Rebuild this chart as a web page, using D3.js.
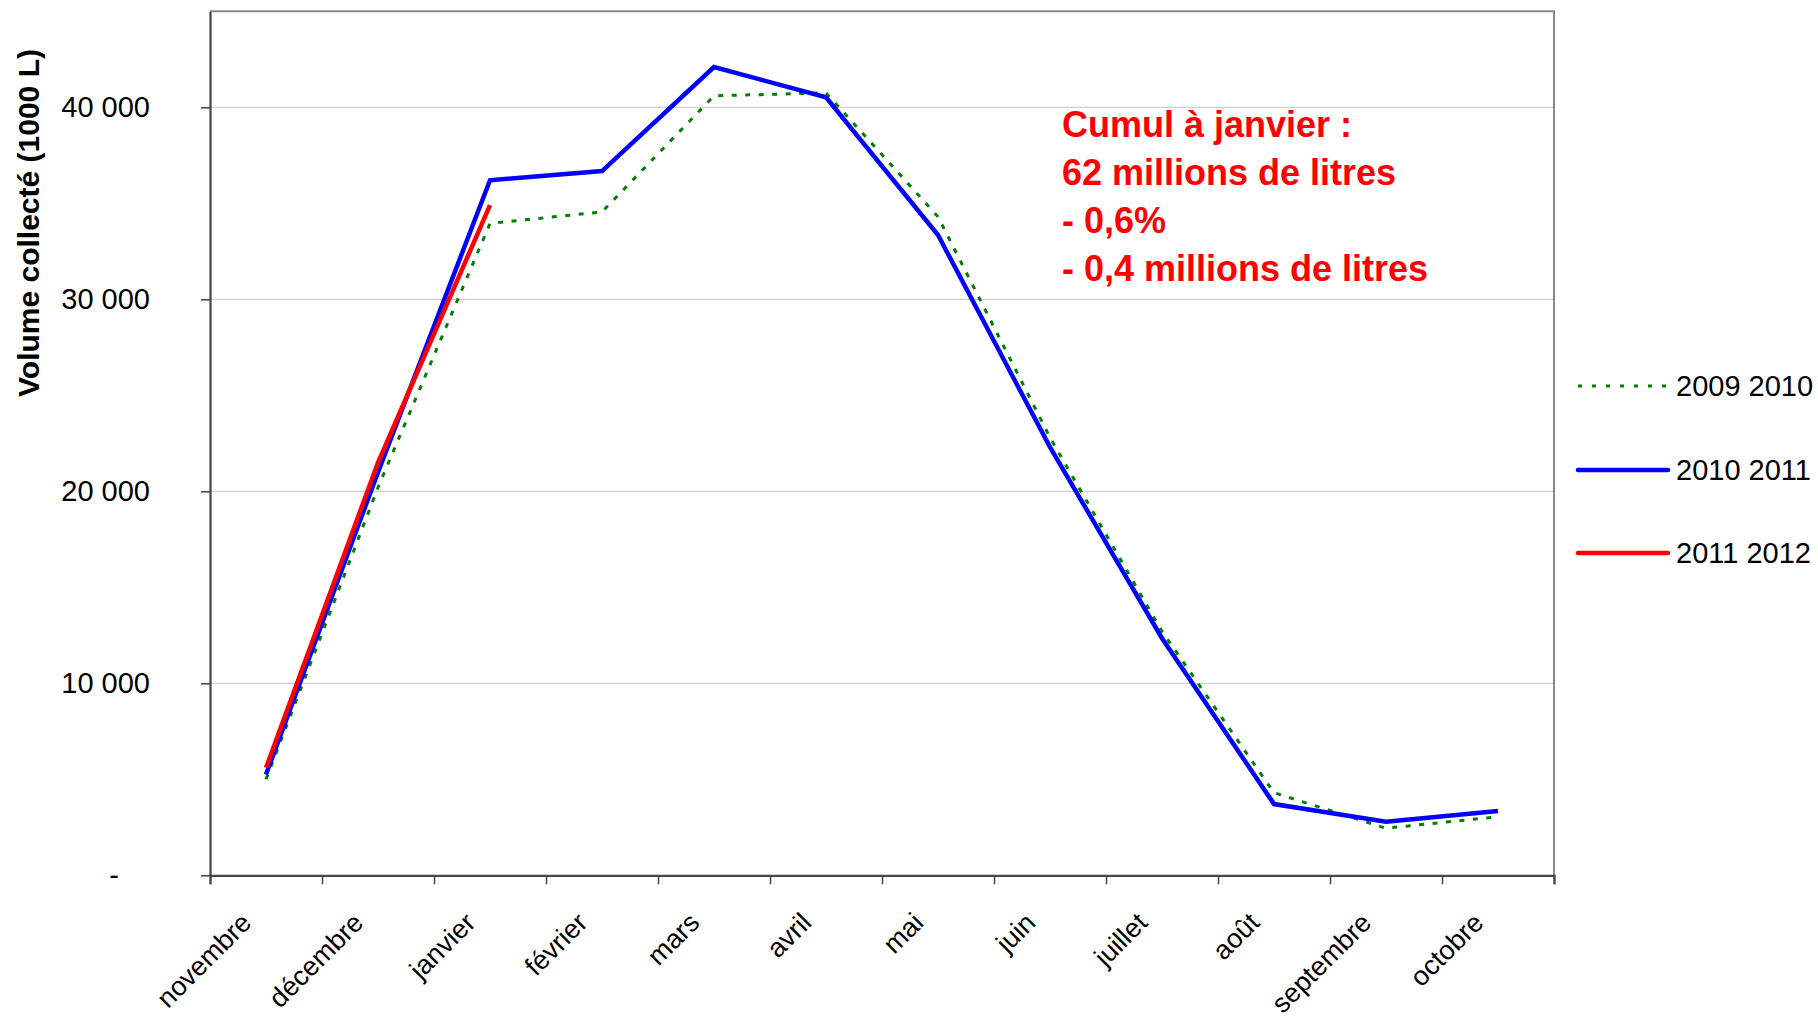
<!DOCTYPE html>
<html>
<head>
<meta charset="utf-8">
<script src="https://cdn.jsdelivr.net/npm/d3@7"></script>
<style>
  html, body { margin: 0; padding: 0; background: #fff; }
  svg { display: block; }
  text { font-family: "Liberation Sans", Arial, sans-serif; }
</style>
</head>
<body>
<svg id="chart" width="1818" height="1018"></svg>
<script>
// ---------- data ----------
const months = ["novembre", "décembre", "janvier", "février", "mars", "avril",
                "mai", "juin", "juillet", "août", "septembre", "octobre"];
const s2009_2010 = [5000, 20200, 33950, 34550, 40600, 40750, 34300, 22800, 12700, 4300, 2450, 3050];
const s2010_2011 = [5250, 21000, 36200, 36680, 42100, 40520, 33350, 22300, 12350, 3710, 2790, 3350];
const s2011_2012 = [5600, 21500, 34900];
const seriesNames = ["2009 2010", "2010 2011", "2011 2012"];
const yTicks = [0, 10000, 20000, 30000, 40000];
const yMax = 45000;
const yTitle = "Volume collecté (1000 L)";
const noteLines = ["Cumul à janvier :", "62 millions de litres", "- 0,6%", "- 0,4 millions de litres"];

// ---------- layout ----------
const L = 210, R = 1554, T = 11.3, B = 875.3;
const svg = d3.select("#chart");

const x = d3.scaleBand().domain(months).range([L, R]).padding(0);
const y = d3.scaleLinear().domain([0, yMax]).range([B, T]);
const cx = m => x(m) + x.bandwidth() / 2;

// gridlines
svg.append("g").selectAll("line")
  .data(yTicks.filter(d => d > 0))
  .join("line")
  .attr("x1", L).attr("x2", R)
  .attr("y1", d => y(d)).attr("y2", d => y(d))
  .attr("stroke", "#cfcfcf").attr("stroke-width", 1.3);

// plot frame (top & right)
svg.append("path")
  .attr("d", `M${L},${T}H${R}V${B}`)
  .attr("fill", "none").attr("stroke", "#8a8a8a").attr("stroke-width", 2);

// y axis
const fmt = d => d === 0 ? "-" : d3.format(",")(d).replace(/,/g, " ");
const yAxis = svg.append("g")
  .attr("transform", `translate(${L},0)`)
  .call(d3.axisLeft(y).tickValues(yTicks).tickSize(9).tickSizeOuter(0).tickPadding(51).tickFormat(fmt));
yAxis.select(".domain").attr("stroke", "#444").attr("stroke-width", 2.2);
yAxis.selectAll(".tick line").attr("stroke", "#444").attr("stroke-width", 1.5);
yAxis.selectAll(".tick text")
  .attr("fill", "#000")
  .style("font-size", "29px")
  .style("font-family", "'Liberation Sans', Arial, sans-serif")
  .filter(d => d === 0)
  .attr("text-anchor", "middle")
  .attr("x", 114 - L);

// x axis (ticks at category boundaries)
const boundaries = d3.scaleLinear().domain([0, months.length]).range([L, R]);
const xAxis = svg.append("g")
  .attr("transform", `translate(0,${B})`)
  .call(d3.axisBottom(boundaries).tickValues(d3.range(0, months.length + 1)).tickSize(9).tickFormat(""));
xAxis.select(".domain").attr("stroke", "#444").attr("stroke-width", 2.2);
xAxis.selectAll(".tick line").attr("stroke", "#444").attr("stroke-width", 1.5);

// month labels
svg.append("g").selectAll("text")
  .data(months)
  .join("text")
  .attr("transform", d => `translate(${cx(d) - 13},${B + 49}) rotate(-45)`)
  .attr("text-anchor", "end")
  .style("font-size", "27px")
  .attr("fill", "#000")
  .text(d => d);

// y title
svg.append("text")
  .attr("transform", `translate(39,223) rotate(-90)`)
  .attr("text-anchor", "middle")
  .style("font-size", "30px")
  .style("font-weight", "bold")
  .attr("fill", "#000")
  .text(yTitle);

// lines
const line = d3.line().x((d, i) => cx(months[i])).y(d => y(d));
const styles = [
  { data: s2009_2010, color: "#008000", width: 3, dash: "5 8.5" },
  { data: s2010_2011, color: "#0000ff", width: 4.5, dash: null },
  { data: s2011_2012, color: "#ff0000", width: 4.5, dash: null }
];
styles.forEach(s => {
  svg.append("path")
    .datum(s.data)
    .attr("d", line)
    .attr("fill", "none")
    .attr("stroke", s.color)
    .attr("stroke-width", s.width)
    .attr("stroke-linejoin", "miter")
    .attr("stroke-dasharray", s.dash);
});

// legend
const legY = [386, 470, 553];
const leg = svg.append("g");
seriesNames.forEach((name, i) => {
  const s = styles[i];
  leg.append("line")
    .attr("x1", 1578).attr("x2", 1668)
    .attr("y1", legY[i]).attr("y2", legY[i])
    .attr("stroke", s.color)
    .attr("stroke-width", s.width)
    .attr("stroke-linecap", s.dash ? "butt" : "round")
    .attr("stroke-dasharray", s.dash ? "4 10" : null);
  leg.append("text")
    .attr("x", 1676).attr("y", legY[i])
    .attr("dy", "0.35em")
    .style("font-size", "29px")
    .attr("fill", "#000")
    .text(name);
});

// annotation
svg.append("g").selectAll("text")
  .data(noteLines)
  .join("text")
  .attr("x", 1062)
  .attr("y", (d, i) => 137 + i * 48)
  .style("font-size", "36px")
  .style("font-weight", "bold")
  .attr("fill", "#ff0000")
  .text(d => d);
</script>
</body>
</html>
